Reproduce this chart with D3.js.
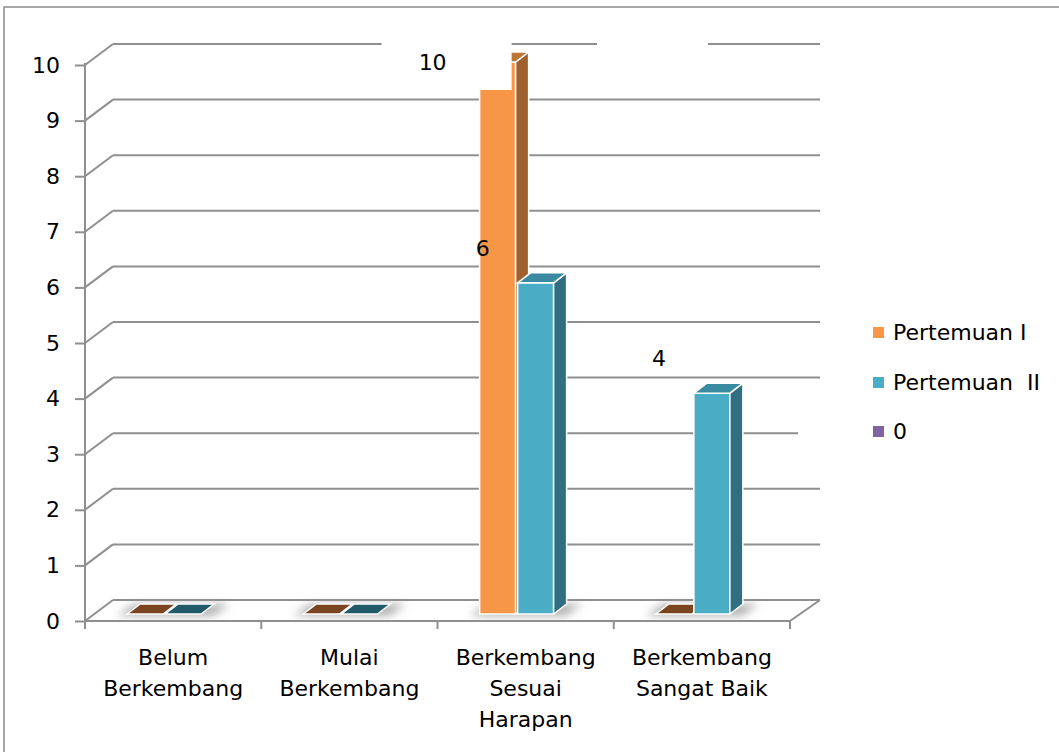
<!DOCTYPE html>
<html><head><meta charset="utf-8">
<script src="https://cdn.jsdelivr.net/npm/d3@7"></script>
<style>
body{margin:0;background:#fff}
svg{display:block}
text{font-family:"DejaVu Sans",sans-serif;font-size:22px;fill:#000}
</style>
</head><body>
<svg id="c" width="1059" height="752"></svg>
<script>
// ---- data ----
const categories = [["Belum","Berkembang"],["Mulai","Berkembang"],["Berkembang","Sesuai","Harapan"],["Berkembang","Sangat Baik"]];
const seriesNames = ["Pertemuan I","Pertemuan  II","0"];
const pertemuan1 = [0,0,10,0];
const pertemuan2 = [0,0,6,4];
const yTicks = [0,1,2,3,4,5,6,7,8,9,10];

// ---- style ----
const colors = {
  front:["#F79646","#4BACC6","#8064A2"],
  side:["#A0602D","#2F6F7F"],
  top:["#BC7638","#3A8BA1"],
  flat:["#7A4520","#215A68"]
};
const grid = "#8f8f8f";

const svg = d3.select("#c");
// chart border
svg.append("rect").attr("x",4).attr("y",7).attr("width",1100).attr("height",800)
  .attr("fill","none").attr("stroke","#8a8a8a").attr("stroke-width",1.5);

// geometry
const x0 = 85, x1 = 790, depthX = 28, depthY = -21;
const yFront = d3.scaleLinear().domain([0,10]).range([621,65]);
const yBar = d3.scaleLinear().domain([0,10]).range([614,62]);
const xBand = d3.scaleBand().domain(d3.range(categories.length)).range([x0,x1]);

const g = svg.append("g");

// back wall gridlines
g.selectAll("line.grid").data(yTicks).join("line").attr("class","grid")
  .attr("x1",x0+depthX).attr("x2",x1+depthX+2)
  .attr("y1",d=>yFront(d)+depthY).attr("y2",d=>yFront(d)+depthY)
  .attr("stroke",grid).attr("stroke-width",2);
// side wall diagonals
g.selectAll("line.diag").data(yTicks).join("line").attr("class","diag")
  .attr("x1",x0).attr("x2",x0+depthX)
  .attr("y1",d=>yFront(d)).attr("y2",d=>yFront(d)+depthY)
  .attr("stroke",grid).attr("stroke-width",2);
// floor front edge and right edge
g.append("line").attr("x1",x0).attr("x2",x1).attr("y1",yFront(0)).attr("y2",yFront(0))
  .attr("stroke",grid).attr("stroke-width",2);
g.append("line").attr("x1",x1).attr("x2",x1+depthX+2).attr("y1",yFront(0)).attr("y2",yFront(0)+depthY)
  .attr("stroke",grid).attr("stroke-width",2);
// category ticks
const bounds = categories.map((c,i)=>xBand(i)).concat([x1]);
g.selectAll("line.ct").data(bounds).join("line").attr("class","ct")
  .attr("x1",d=>d).attr("x2",d=>d).attr("y1",yFront(0)).attr("y2",yFront(0)+8)
  .attr("stroke",grid).attr("stroke-width",2);

// y axis
const yAxis = d3.axisLeft(yFront).tickValues(yTicks).tickSize(10).tickSizeOuter(0).tickPadding(15);
const ya = svg.append("g").attr("transform",`translate(${x0},0)`).call(yAxis);
ya.select(".domain").attr("stroke",grid).attr("stroke-width",2).attr("d",`M0,${yFront(10)-2}V${yFront(0)+6}`);
ya.selectAll(".tick line").attr("stroke",grid).attr("stroke-width",2);
ya.selectAll(".tick text").style("font-family","DejaVu Sans").style("font-size","22px").attr("fill","#000");

// category labels
const cl = svg.append("g");
categories.forEach((lines,i)=>{
  const t = cl.append("text").attr("text-anchor","middle")
    .attr("x",xBand(i)+xBand.bandwidth()/2).attr("y",665);
  lines.forEach((l,k)=>t.append("tspan").attr("x",xBand(i)+xBand.bandwidth()/2).attr("dy",k?31:0).text(l));
});

// bars
const defs = svg.append("defs");
defs.append("filter").attr("id","sh").attr("x","-50%").attr("y","-50%").attr("width","200%").attr("height","200%")
  .append("feGaussianBlur").attr("stdDeviation",4);

const bw = 36, bdx = 13, bdy = -10;
const seriesVals = [pertemuan1, pertemuan2];
const bars = [];
categories.forEach((c,i)=>{
  const pc = xBand(i)+xBand.bandwidth()/2 - 8;
  seriesVals.forEach((vals,s)=>{
    bars.push({i,s,v:vals[i],xl:pc-38+s*38});
  });
});
// shadows
const shg = svg.append("g").attr("filter","url(#sh)");
categories.forEach((c,i)=>{
  const pc = xBand(i)+xBand.bandwidth()/2 - 8;
  const xl = pc-48, xr = pc+46, yb = yBar(0)+2;
  shg.append("polygon").attr("points",[[xl,yb],[xl+bdx+4,yb+bdy-2],[xr+bdx+6,yb+bdy-2],[xr+2,yb]].map(p=>p.join(",")).join(" "))
    .attr("fill","#9a9a9a").attr("opacity",0.75);
});
const bg = svg.append("g");
bars.forEach(b=>{
  const yt = yBar(b.v), yb = yBar(0);
  if (b.v > 0) {
    bg.append("rect").attr("x",b.xl).attr("y",yt).attr("width",bw).attr("height",yb-yt)
      .attr("fill",colors.front[b.s]).attr("stroke","#fff").attr("stroke-width",1.5);
    bg.append("polygon").attr("points",[[b.xl+bw,yt],[b.xl+bw+bdx,yt+bdy],[b.xl+bw+bdx,yb+bdy],[b.xl+bw,yb]].map(p=>p.join(",")).join(" "))
      .attr("fill",colors.side[b.s]).attr("stroke","#fff").attr("stroke-width",1.5);
    bg.append("polygon").attr("points",[[b.xl,yt],[b.xl+bdx,yt+bdy],[b.xl+bw+bdx,yt+bdy],[b.xl+bw,yt]].map(p=>p.join(",")).join(" "))
      .attr("fill",colors.top[b.s]).attr("stroke","#fff").attr("stroke-width",1.5);
  } else {
    bg.append("polygon").attr("points",[[b.xl,yt],[b.xl+bdx,yt+bdy],[b.xl+bw+bdx,yt+bdy],[b.xl+bw,yt]].map(p=>p.join(",")).join(" "))
      .attr("fill",colors.flat[b.s]).attr("stroke","#fff").attr("stroke-width",1.5);
  }
});

// data labels (non-zero values)
const labelOffset = [[-65,-35],[-53,-35]];
const lab = svg.append("g");
bars.filter(b=>b.v>0).forEach(b=>{
  const cx = b.xl + bw/2 + labelOffset[b.s][0];
  const cy = Math.max(yBar(b.v) + labelOffset[b.s][1], yFront(10)-3);
  if (cy > yBar(b.v) - 30) {
    // label box clipped against the top of the plot: white background
    lab.append("rect").attr("x",cx-51).attr("y",cy-28).attr("width",130).attr("height",56).attr("fill","#fff");
  }
  lab.append("text").attr("x",cx).attr("y",cy+8).attr("text-anchor","middle").text(b.v);
});
// empty label box of the hidden series
lab.append("rect").attr("x",597).attr("y",36).attr("width",111).attr("height",20).attr("fill","#fff");

// legend
const lg = svg.append("g");
lg.append("rect").attr("x",798).attr("y",420).attr("width",60).attr("height",25).attr("fill","#fff");
const legY = [332,382,431];
seriesNames.forEach((n,k)=>{
  lg.append("rect").attr("x",873).attr("y",legY[k]-5).attr("width",11).attr("height",11).attr("fill",colors.front[k]);
  lg.append("text").attr("x",893).attr("y",legY[k]+8).text(n).style("white-space","pre");
});
</script>
</body></html>
